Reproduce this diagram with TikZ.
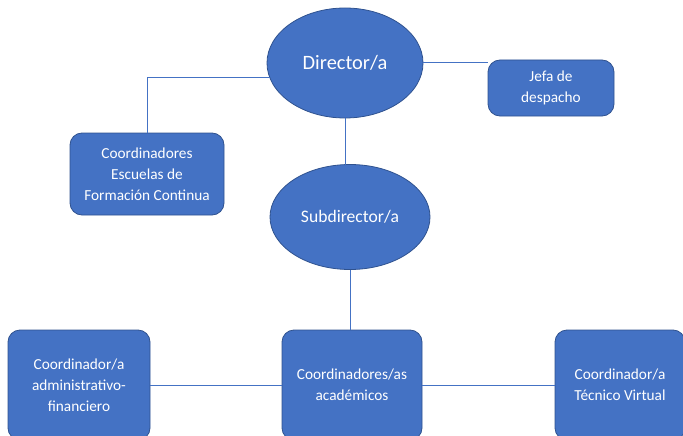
\documentclass[tikz,border=0pt]{standalone}
\usepackage{fontspec}
\setmainfont{Carlito}
\usetikzlibrary{shapes.geometric}
\definecolor{fillb}{HTML}{4472C4}
\definecolor{edgeb}{HTML}{2F528F}
\begin{document}
\begin{tikzpicture}[x=1pt,y=-1pt,
  box/.style={draw=edgeb, fill=fillb, rounded corners=12pt, text=white, align=center,
    font=\fontsize{15.3}{21}\selectfont, line width=0.8pt, inner sep=0pt, outer sep=0pt},
  oval/.style={ellipse, draw=edgeb, fill=fillb, text=white, align=center,
    font=\fontsize{20.4}{24}\selectfont, line width=0.8pt, inner sep=0pt, outer sep=0pt},
  conn/.style={draw=fillb, line width=1pt}]
\useasboundingbox (0,0) rectangle (683,436);
\clip (0,0) rectangle (683,436);
\node[oval, minimum width=156pt, minimum height=110pt] (dir) at (345,63) {Director/a};
\node[box, minimum width=126pt, minimum height=56pt] (jefa) at (551,88) {Jefa de\\despacho};
\node[box, minimum width=154pt, minimum height=82pt] (esc) at (147,174) {Coordinadores\\Escuelas de\\Formación Continua};
\node[oval, minimum width=160pt, minimum height=105pt, font=\fontsize{17.6}{22}\selectfont] (sub) at (350,217) {Subdirector/a};
\node[box, minimum width=142pt, minimum height=110pt] (adm) at (79,385) {Coordinador/a\\administrativo-\\financiero};
\node[box, minimum width=140pt, minimum height=110pt] (aca) at (352,385) {Coordinadores/as\\académicos};
\node[box, minimum width=130pt, minimum height=110pt] (tec) at (620,385) {Coordinador/a\\Técnico Virtual};
\draw[conn] (dir.191) -| (esc.north);
\draw[conn] (dir.east) -- (dir.east -| jefa.west);
\draw[conn] (dir.south) -- (dir.south |- sub.north);
\draw[conn] (sub.south) -- (sub.south |- aca.north);
\draw[conn] (adm.east) -- (aca.west);
\draw[conn] (aca.east) -- (tec.west);
\end{tikzpicture}
\end{document}
